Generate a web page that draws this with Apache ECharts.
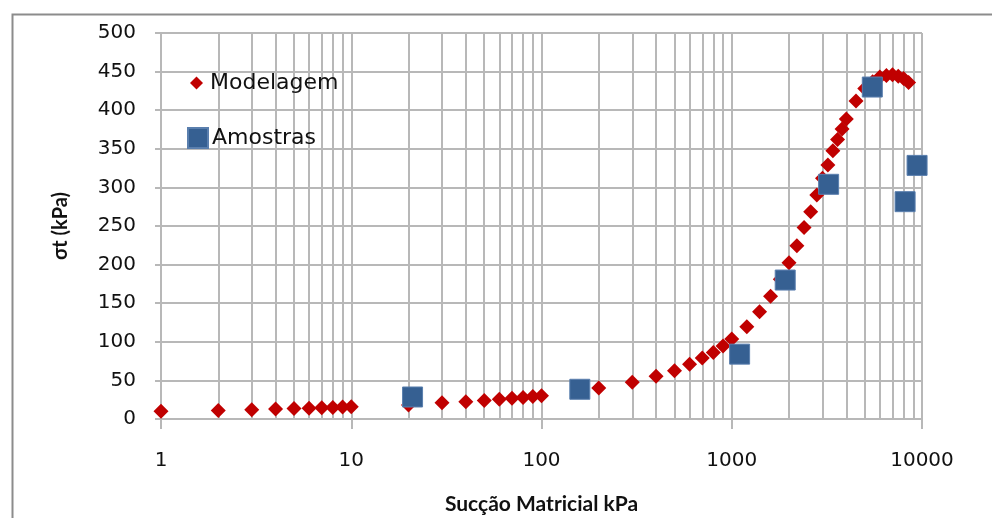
<!DOCTYPE html>
<html>
<head>
<meta charset="utf-8">
<script src="https://cdn.jsdelivr.net/npm/echarts@6/dist/echarts.min.js"></script>
<style>
  html, body { margin: 0; padding: 0; background: #fff; }
  #main { width: 992px; height: 518px; }
</style>
</head>
<body>
<div id="main"></div>
<script>
// Modelagem (curva do modelo)
var modelX = [1, 2, 3, 4, 5, 6, 7, 8, 9, 10,
  20, 30, 40, 50, 60, 70, 80, 90, 100,
  200, 300, 400, 500, 600, 700, 800, 900, 1000,
  1200, 1400, 1600, 1800, 2000, 2200, 2400, 2600, 2800, 3000, 3200, 3400, 3600, 3800, 4000,
  4500, 5000, 5500, 6000, 6500, 7000, 7500, 8000, 8500];
var modelY = [10, 11, 12, 13, 13.5, 14, 14.5, 15, 15.5, 16,
  18, 21, 22.5, 24, 25.5, 27, 28, 29, 30,
  40, 47.5, 55.5, 62.5, 71, 79, 86, 94.5, 103.5,
  119.5, 139, 159, 181, 202.5, 224.5, 248, 268.5, 290, 312, 329, 347.5, 362, 375.5, 388.5,
  412, 428, 437, 443, 445, 446, 444, 441, 436];

// Amostras (ensaios)
var amostraX = [21, 159, 1100, 1910, 3230, 5480, 8150, 9420];
var amostraY = [28.5, 38.5, 84, 180, 304, 430, 281.5, 328.5];

var yTicks = [0, 50, 100, 150, 200, 250, 300, 350, 400, 450, 500];
var decades = [1, 10, 100, 1000];

function pares(xs, ys) {
  var out = [];
  for (var i = 0; i < xs.length; i++) out.push([xs[i], ys[i]]);
  return out;
}

// linhas de grade secundarias do eixo log (2..9 em cada decada)
var minorLines = [];
decades.forEach(function (d) {
  for (var k = 2; k <= 9; k++) minorLines.push({ xAxis: k * d });
});

var gridColor = '#b8b8b8';
var fonte = '"DejaVu Sans", sans-serif';
var fonteTitulo = 'Lato, "Open Sans", sans-serif';

var chart = echarts.init(document.getElementById('main'), null, { renderer: 'canvas' });
chart.setOption({
  animation: false,
  backgroundColor: '#fff',
  textStyle: { fontFamily: fonte },
  graphic: [{
    type: 'rect',
    left: 10, top: 12,
    shape: { width: 1000, height: 600 },
    style: { fill: 'none', stroke: '#8c8c8c', lineWidth: 2 },
    silent: true
  }],
  grid: { left: 161, right: 70, top: 33, bottom: 99, containLabel: false, outerBoundsMode: 'none' },
  legend: [{
    data: [{ name: 'Modelagem', icon: 'diamond' }],
    left: 185, top: 67,
    itemWidth: 13, itemHeight: 13,
    textStyle: { fontSize: 22, color: '#111', fontFamily: fonte, padding: [0, 0, 0, 2] }
  }, {
    data: [{ name: 'Amostras', icon: 'rect' }],
    left: 182, top: 122,
    itemWidth: 20, itemHeight: 20,
    textStyle: { fontSize: 22, color: '#111', fontFamily: fonte, padding: [0, 0, 0, -1] }
  }],
  xAxis: {
    type: 'log',
    logBase: 10,
    min: 1, max: 10000,
    name: 'Sucção Matricial kPa',
    nameLocation: 'middle',
    nameGap: 75,
    nameTextStyle: { fontSize: 21, fontWeight: 'bold', color: '#111', fontFamily: fonteTitulo },
    axisLine: { lineStyle: { color: gridColor, width: 2 } },
    axisTick: { show: true, length: 10, lineStyle: { color: gridColor, width: 2 } },
    axisLabel: {
      fontSize: 20, color: '#111', margin: 32, fontFamily: fonte,
      formatter: function (v) { return String(v); }
    },
    splitLine: { show: true, lineStyle: { color: gridColor, width: 2 } },
    minorTick: { show: false },
    minorSplitLine: { show: false }
  },
  yAxis: {
    type: 'value',
    min: 0, max: 500, interval: 50,
    name: 'σt (kPa)',
    nameLocation: 'middle',
    nameGap: 90,
    nameRotate: 90,
    nameTextStyle: { fontSize: 20, fontWeight: 'bold', color: '#111', fontFamily: fonteTitulo },
    axisLine: { show: true, lineStyle: { color: gridColor, width: 2 } },
    axisTick: { show: true, length: 6, lineStyle: { color: gridColor, width: 2 } },
    axisLabel: {
      fontSize: 20, color: '#111', margin: 25, fontFamily: fonte,
      formatter: function (v) { return yTicks.indexOf(v) >= 0 ? String(v) : ''; }
    },
    splitLine: { show: true, lineStyle: { color: gridColor, width: 2 } }
  },
  series: [{
    name: 'Modelagem',
    type: 'scatter',
    symbol: 'diamond',
    symbolSize: 15,
    itemStyle: { color: '#c00000', opacity: 1 },
    data: pares(modelX, modelY),
    z: 3,
    markLine: {
      silent: true,
      symbol: ['none', 'none'],
      label: { show: false },
      lineStyle: { color: gridColor, width: 2, type: 'solid' },
      data: minorLines,
      z: 1
    }
  }, {
    name: 'Amostras',
    type: 'scatter',
    symbol: 'rect',
    symbolSize: 20,
    itemStyle: { color: '#366092', borderColor: '#5a7fae', borderWidth: 1, opacity: 1 },
    data: pares(amostraX, amostraY),
    z: 4
  }]
});
</script>
</body>
</html>
